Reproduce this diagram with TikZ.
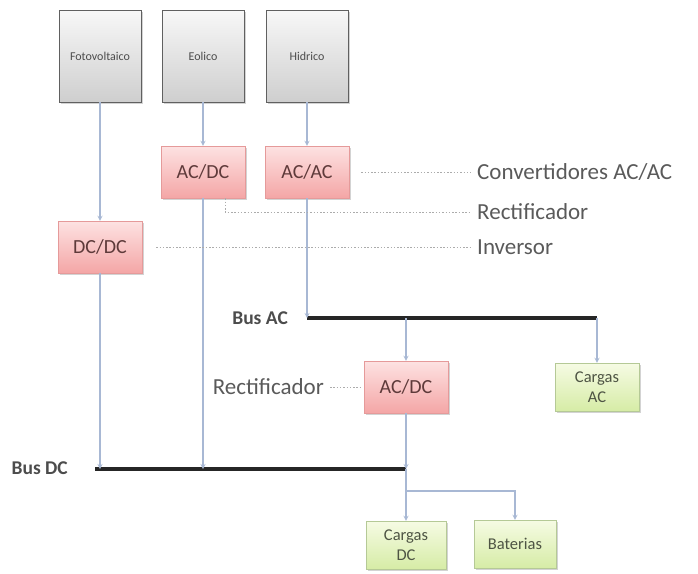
\documentclass[tikz,border=0pt]{standalone}
\usepackage{fontspec}
\setmainfont{Carlito}
\usetikzlibrary{shadows}

\definecolor{linkblue}{HTML}{A8B8D4}
\definecolor{redtop}{HTML}{FDE2E2}
\definecolor{redbot}{HTML}{F4A6A6}
\definecolor{redline}{HTML}{E59A9A}
\definecolor{redtext}{HTML}{5E3A3A}
\definecolor{greentop}{HTML}{F6FBE4}
\definecolor{greenbot}{HTML}{D6ECA6}
\definecolor{greenline}{HTML}{B5C996}
\definecolor{greentext}{HTML}{4E5444}
\definecolor{notegray}{HTML}{5A5A5A}

\begin{document}
\begin{tikzpicture}[x=1pt,y=-1pt,>=stealth,
    shade box/.style={rectangle, drop shadow={opacity=0.35, shadow xshift=2pt, shadow yshift=-2pt}},
    src node/.style={shade box, draw=gray!75!black, top color=gray!6, bottom color=gray!38,
        minimum width=82, minimum height=92, text=black!70, font=\fontsize{12}{13}\selectfont},
    conv node/.style={shade box, draw=redline, top color=redtop, bottom color=redbot,
        minimum width=84, minimum height=52, text=redtext, font=\fontsize{20}{22}\selectfont},
    load node/.style={shade box, draw=greenline, top color=greentop, bottom color=greenbot,
        minimum width=84, minimum height=48, align=center, text=greentext, font=\fontsize{16.5}{20}\selectfont},
    note/.style={text=notegray, font=\fontsize{23}{26}\selectfont, inner sep=0pt},
    bus label/.style={text=black!70, font=\fontsize{19.5}{22}\selectfont\bfseries, inner sep=0pt},
    link/.style={->, color=linkblue, line width=1.2pt},
    note line/.style={draw=gray!65, line width=0.9pt, dash pattern=on 1.5pt off 1.8pt},
    bus/.style={draw=black!85, line width=3.4pt}]

\useasboundingbox (0,0) rectangle (698,573);

% sources
\node[src node] (foto) at (100,56) {Fotovoltaico};
\node[src node] (eolico) at (203,56) {Eolico};
\node[src node] (hidrico) at (307,56) {Hidrico};

% converters
\node[conv node] (acdc1) at (203,172) {AC/DC};
\node[conv node] (acac) at (307,172) {AC/AC};
\node[conv node] (dcdc) at (100,247) {DC/DC};
\node[conv node] (acdc2) at (406,387) {AC/DC};

% loads
\node[load node] (cargasac) at (597,387) {Cargas\\AC};
\node[load node, minimum width=80] (cargasdc) at (406,545) {Cargas\\DC};
\node[load node, minimum width=82] (baterias) at (515,544) {Baterias};

% notes
\node[note, anchor=west] (convlab) at (477,172) {Convertidores AC/AC};
\node[note, anchor=west] (rectlab) at (477,212) {Rectificador};
\node[note, anchor=west] (invlab) at (477,247) {Inversor};
\node[note, anchor=east] (rectlab2) at (324,387) {Rectificador};
\node[bus label, anchor=east] (busaclab) at (288,318) {Bus AC};
\node[bus label, anchor=east] (busdclab) at (68,468) {Bus DC};

% bus taps
\coordinate (acL) at (307,318);
\coordinate (acM) at (406,318);
\coordinate (acR) at (597,318);
\coordinate (dcL) at (95,469);
\coordinate (dcA) at (100,469);
\coordinate (dcB) at (203,469);
\coordinate (dcR) at (406,469);
\coordinate (dcS) at (406,491);

\draw[bus] (acL) -- (acR);
\draw[bus] (dcL) -- (dcR);

\path[link]
    (foto) edge (dcdc)
    (eolico) edge (acdc1)
    (hidrico) edge (acac)
    (dcdc) edge (dcA)
    (acdc1) edge (dcB)
    (acac) edge (acL)
    (acM) edge (acdc2)
    (acR) edge (cargasac)
    (acdc2) edge (dcR)
    (dcR) edge (cargasdc);
\draw[link] (dcS) -| (baterias);

\draw[note line, shorten <=12pt, shorten >=6pt] (acac.east) -- (convlab.west);
\draw[note line, shorten >=6pt] ([xshift=22pt]acdc1.south) |- (rectlab.west);
\draw[note line, shorten <=14pt, shorten >=6pt] (dcdc.east) -- (invlab.west);
\draw[note line, shorten <=6pt, shorten >=3pt] (rectlab2.east) -- (acdc2.west);

\end{tikzpicture}
\end{document}
